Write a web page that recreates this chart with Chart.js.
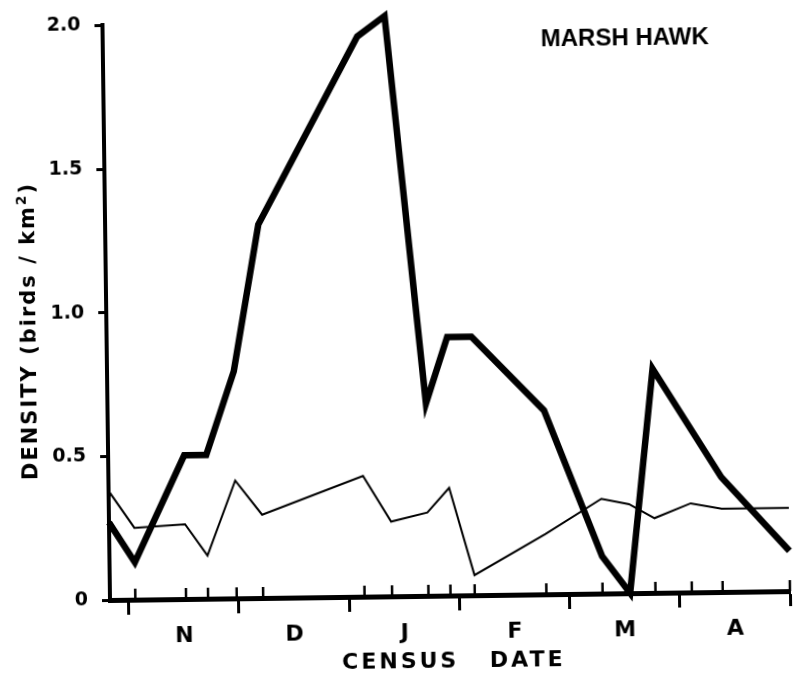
<!DOCTYPE html>
<html>
<head>
<meta charset="utf-8">
<script src="https://cdn.jsdelivr.net/npm/chart.js@4.4.1/dist/chart.umd.min.js"></script>
<style>
  html,body{margin:0;padding:0;background:#fff;}
  /* el original esta escaneado un poco girado */
  #stage{position:relative;width:794px;height:675px;transform:rotate(-0.75deg);transform-origin:110px 600px;}
  canvas{position:absolute;left:0;top:0;}
  .txt{position:absolute;white-space:nowrap;color:#000;}
  #titulo{left:532px;top:32px;width:200px;text-align:center;font:bold 24px "Liberation Sans",Arial,sans-serif;line-height:24px;}
  #ejeX{left:453px;top:664px;transform:translate(-50%,-50%);font:bold 22px "DejaVu Sans";letter-spacing:3px;word-spacing:20px;}
  #ejeY{left:31px;top:330px;transform:translate(-50%,-50%) rotate(-90deg);font:bold 21px "DejaVu Sans";letter-spacing:2px;}
</style>
</head>
<body>
<div id="stage">
  <canvas id="densityChart" width="794" height="675"></canvas>
  <div class="txt" id="titulo">MARSH HAWK</div>
  <div class="txt" id="ejeX">CENSUS DATE</div>
  <div class="txt" id="ejeY">DENSITY (birds / km<sup style="font-size:0.65em">2</sup>)</div>
</div>
<script>
//fechas de censo en meses desde el 1 de noviembre (N=0 ... A=5, 1 de mayo=6)
const censusDates = [-0.17, 0.06, 0.52, 0.72, 0.98, 1.22, 2.14, 2.39, 2.72, 2.92, 3.14, 3.79, 4.30, 4.55, 4.78, 5.11, 5.39, 6.00]
//linea gruesa y linea fina (birds/km2)
const heavyDensity = [0.27, 0.13, 0.50, 0.50, 0.79, 1.30, 1.95, 2.02, 0.67, 0.90, 0.90, 0.64, 0.13, 0.00, 0.78, null, 0.40, 0.14]
const lightDensity = [0.38, 0.25, 0.26, 0.15, 0.41, 0.29, 0.42, 0.26, 0.29, 0.375, 0.07, 0.21, 0.33, 0.31, 0.26, 0.31, 0.29, 0.29]
const monthLabels = ['N','D','J','F','M','A']
const monthTicks = [0, 0.5, 1, 1.5, 2, 2.5, 3, 3.5, 4, 4.5, 5, 5.5, 6]
const densityTicks = [0, 0.5, 1.0, 1.5, 2.0]

//marcas cortas hacia dentro en cada fecha de censo
const minorTicks = {
    id:'minorTicks',
    afterDraw(chart){
        const ctx = chart.ctx
        const x = chart.scales.x
        const y0 = chart.scales.y.getPixelForValue(0)
        ctx.save()
        ctx.strokeStyle = '#000'
        ctx.lineWidth = 2.5
        censusDates.slice(1).forEach(d=>{
            const px = x.getPixelForValue(d)
            ctx.beginPath()
            ctx.moveTo(px, y0)
            ctx.lineTo(px, y0 - 11)
            ctx.stroke()
        })
        ctx.restore()
    }
}

function toPoints(values){
    return censusDates.map((d,i)=>({x:d, y:values[i]}))
}

const ctx = document.getElementById('densityChart').getContext('2d')
const chart = new Chart(ctx,{
    type:'line',
    data:{
        datasets:[
            {
                label:'heavy',
                data:toPoints(heavyDensity),
                borderColor:'#000',
                borderWidth:6.5,
                borderJoinStyle:'miter',
                pointRadius:0,
                spanGaps:true,
                clip:false
            },
            {
                label:'light',
                data:toPoints(lightDensity),
                borderColor:'#000',
                borderWidth:2,
                pointRadius:0,
                clip:false
            }
        ]
    },
    options:{
        responsive:false,
        animation:false,
        devicePixelRatio:1,
        layout:{padding:{top:20, right:4, bottom:20, left:0}},
        plugins:{legend:{display:false}, tooltip:{enabled:false}},
        scales:{
            x:{
                type:'linear',
                min:-0.17,
                max:6.0,
                afterBuildTicks:s=>{ s.ticks = monthTicks.map(v=>({value:v})) },
                afterFit:s=>{ s.height = 55; s.paddingLeft = 0; s.paddingRight = 0 },
                ticks:{
                    autoSkip:false,
                    maxRotation:0,
                    padding:9,
                    color:'#000',
                    font:{family:'DejaVu Sans', size:22, weight:'bold'},
                    callback:v=> Number.isInteger(v) ? '' : monthLabels[Math.floor(v)]
                },
                grid:{
                    drawOnChartArea:false,
                    tickLength:15,
                    tickWidth:3,
                    tickColor:c=> (c.tick && Number.isInteger(c.tick.value)) ? '#000' : 'rgba(0,0,0,0)'
                },
                border:{width:5, color:'#000'}
            },
            y:{
                min:0,
                max:2,
                afterBuildTicks:s=>{ s.ticks = densityTicks.map(v=>({value:v})) },
                afterFit:s=>{ s.width = 110 },
                ticks:{
                    padding:14,
                    color:'#000',
                    font:{family:'DejaVu Sans', size:19, weight:'bold'},
                    callback:v=> v === 0 ? '0' : v.toFixed(1)
                },
                grid:{drawOnChartArea:false, tickLength:8, tickWidth:3, tickColor:'#000'},
                border:{width:4, color:'#000'}
            }
        }
    },
    plugins:[minorTicks]
})
</script>
</body>
</html>
